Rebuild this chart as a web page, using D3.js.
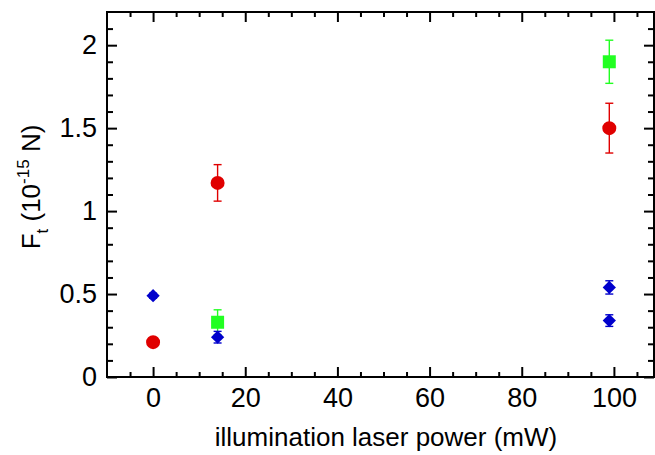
<!DOCTYPE html>
<html>
<head>
<meta charset="utf-8">
<script src="https://cdn.jsdelivr.net/npm/d3@7"></script>
<style>
  body { margin: 0; background: #fff; }
  svg text { font-family: "Liberation Sans", Arial, Helvetica, sans-serif; fill: #000; }
</style>
</head>
<body>
<div id="chart"></div>
<script>
  // Values. Force in units of 1e-15 N.
  var redPower = [0, 14, 99];
  var redForce = [0.21, 1.17, 1.50];
  var redError = [0.02, 0.11, 0.15];

  var greenPower = [14, 99];
  var greenForce = [0.33, 1.90];
  var greenError = [0.075, 0.13];

  var bluePower = [0, 14, 99, 99];
  var blueForce = [0.49, 0.24, 0.54, 0.34];
  var blueError = [0.015, 0.035, 0.04, 0.035];

  var xMajorTicks = [0, 20, 40, 60, 80, 100];
  var yMajorTicks = [0, 0.5, 1, 1.5, 2];

  var W = 655, H = 455;
  var LEFT = 107, RIGHT = 654, TOP = 12, BOTTOM = 377;

  var svg = d3.select("#chart").append("svg")
    .attr("width", W)
    .attr("height", H);

  var x = d3.scaleLinear().domain([-10, 108.7]).range([LEFT, RIGHT]);
  var y = d3.scaleLinear().domain([0, 2.2]).range([BOTTOM, TOP]);

  var xMinor = d3.range(-5, 106, 5).filter(function (d) { return d % 20 !== 0; });
  var yMinor = d3.range(1, 22).map(function (d) { return d / 10; })
    .filter(function (d) { return Math.round(d * 10) % 5 !== 0; });

  function styleAxis(g) {
    g.select(".domain").remove();
    g.selectAll("line").attr("stroke", "#000").attr("stroke-width", 2);
    g.selectAll("text").attr("font-size", 27);
  }

  // bottom and top axes, ticks pointing inwards
  svg.append("g").attr("transform", "translate(0," + BOTTOM + ")")
    .call(d3.axisBottom(x).tickValues(xMajorTicks).tickSize(-10).tickPadding(11)
      .tickFormat(d3.format("d")))
    .call(styleAxis);
  svg.append("g").attr("transform", "translate(0," + BOTTOM + ")")
    .call(d3.axisBottom(x).tickValues(xMinor).tickSize(-5).tickFormat(""))
    .call(styleAxis);
  svg.append("g").attr("transform", "translate(0," + TOP + ")")
    .call(d3.axisTop(x).tickValues(xMajorTicks).tickSize(-10).tickFormat(""))
    .call(styleAxis);
  svg.append("g").attr("transform", "translate(0," + TOP + ")")
    .call(d3.axisTop(x).tickValues(xMinor).tickSize(-5).tickFormat(""))
    .call(styleAxis);

  // left and right axes
  svg.append("g").attr("transform", "translate(" + LEFT + ",0)")
    .call(d3.axisLeft(y).tickValues(yMajorTicks).tickSize(-10).tickPadding(10)
      .tickFormat(d3.format("")))
    .call(styleAxis);
  svg.append("g").attr("transform", "translate(" + LEFT + ",0)")
    .call(d3.axisLeft(y).tickValues(yMinor).tickSize(-6).tickFormat(""))
    .call(styleAxis);
  svg.append("g").attr("transform", "translate(" + RIGHT + ",0)")
    .call(d3.axisRight(y).tickValues(yMajorTicks).tickSize(-10).tickFormat(""))
    .call(styleAxis);
  svg.append("g").attr("transform", "translate(" + RIGHT + ",0)")
    .call(d3.axisRight(y).tickValues(yMinor).tickSize(-6).tickFormat(""))
    .call(styleAxis);

  // frame
  svg.append("rect")
    .attr("x", LEFT).attr("y", TOP)
    .attr("width", RIGHT - LEFT).attr("height", BOTTOM - TOP)
    .attr("fill", "none").attr("stroke", "#000").attr("stroke-width", 2);

  // rot: extra rotation of the marker (45 turns the square into a diamond)
  function series(px, py, pe, color, symbol, size, rot) {
    var data = px.map(function (d, i) { return { x: d, y: py[i], e: pe[i] }; });
    var g = svg.append("g");
    var bars = g.selectAll(".err").data(data).enter().append("g")
      .attr("stroke", color).attr("stroke-width", 1.4);
    bars.append("line")
      .attr("x1", function (d) { return x(d.x); })
      .attr("x2", function (d) { return x(d.x); })
      .attr("y1", function (d) { return y(d.y - d.e); })
      .attr("y2", function (d) { return y(d.y + d.e); });
    [-1, 1].forEach(function (s) {
      bars.append("line")
        .attr("x1", function (d) { return x(d.x) - 4; })
        .attr("x2", function (d) { return x(d.x) + 4; })
        .attr("y1", function (d) { return y(d.y + s * d.e); })
        .attr("y2", function (d) { return y(d.y + s * d.e); });
    });
    g.selectAll(".pt").data(data).enter().append("path")
      .attr("d", d3.symbol().type(symbol).size(size))
      .attr("transform", function (d) {
        return "translate(" + x(d.x) + "," + y(d.y) + ") rotate(" + (rot || 0) + ")";
      })
      .attr("fill", color);
  }

  series(redPower, redForce, redError, "#e00000", d3.symbolCircle, 154);
  series(greenPower, greenForce, greenError, "#22ff22", d3.symbolSquare, 169);
  series(bluePower, blueForce, blueError, "#0000cc", d3.symbolSquare, 88, 45);

  // axis titles
  svg.append("text")
    .attr("x", 386).attr("y", 446)
    .attr("text-anchor", "middle")
    .attr("font-size", 26)
    .text("illumination laser power (mW)");

  var yt = svg.append("text")
    .attr("transform", "translate(40,187) rotate(-90)")
    .attr("text-anchor", "middle")
    .attr("font-size", 26);
  yt.append("tspan").text("F");
  yt.append("tspan").attr("dy", 8).attr("font-size", 17).text("t");
  yt.append("tspan").attr("dy", -8).text(" (10");
  yt.append("tspan").attr("dy", -11).attr("font-size", 17).text("-15");
  yt.append("tspan").attr("dy", 11).text(" N)");
</script>
</body>
</html>
